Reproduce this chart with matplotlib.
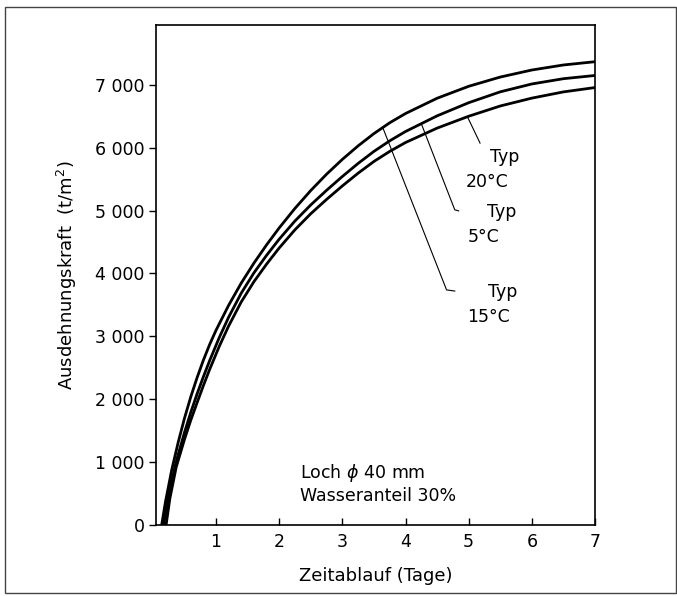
import matplotlib
matplotlib.use("Agg")
import matplotlib.pyplot as plt
import numpy as np
from matplotlib.patches import Rectangle

plt.rcParams['font.family'] = ['DejaVu Sans']

# Ausdehnungskraft (t/m2) over Zeitablauf (Tage)
days_15 = [0.14, 0.2, 0.3, 0.4, 0.5, 0.6, 0.7, 0.8, 0.9, 1.0, 1.2, 1.4, 1.6, 1.8,
           2.0, 2.25, 2.5, 2.75, 3.0, 3.25, 3.5, 3.75, 4.0, 4.5, 5.0, 5.5, 6.0, 6.5, 7.0]
force_15 = [0, 368, 880, 1308, 1693, 2035, 2341, 2620, 2871, 3095, 3493, 3847, 4163, 4453,
            4723, 5034, 5318, 5577, 5813, 6028, 6223, 6395, 6542, 6785, 6975, 7122, 7234, 7314, 7366]

days_5 = [0.17, 0.27, 0.37, 0.5, 0.6, 0.7, 0.8, 0.9, 1.05, 1.2, 1.4, 1.6, 1.8,
          2.0, 2.25, 2.5, 2.75, 3.0, 3.25, 3.5, 3.75, 4.0, 4.5, 5.0, 5.5, 6.0, 6.5, 7.0]
force_5 = [0, 572, 1010, 1468, 1789, 2083, 2356, 2615, 2976, 3304, 3687, 4008, 4287,
           4544, 4834, 5089, 5321, 5541, 5749, 5940, 6108, 6256, 6505, 6714, 6887, 7012, 7096, 7147]

days_20 = [0.21, 0.27, 0.37, 0.5, 0.6, 0.7, 0.8, 0.9, 1.05, 1.2, 1.4, 1.6, 1.8,
           2.0, 2.25, 2.5, 2.75, 3.0, 3.25, 3.5, 3.75, 4.0, 4.5, 5.0, 5.5, 6.0, 6.5, 7.0]
force_20 = [0, 422, 920, 1358, 1664, 1943, 2216, 2475, 2836, 3164, 3547, 3868, 4147,
            4404, 4694, 4949, 5176, 5391, 5594, 5780, 5940, 6081, 6310, 6499, 6662, 6787, 6886, 6955]

x_ticks = [1, 2, 3, 4, 5, 6, 7]
y_ticks = [0, 1000, 2000, 3000, 4000, 5000, 6000, 7000]
y_labels = ['0', '1 000', '2 000', '3 000', '4 000', '5 000', '6 000', '7 000']

fig = plt.figure(figsize=(6.77, 5.96), dpi=100)
ax = fig.add_axes([0.2304, 0.1191, 0.6485, 0.839])

ax.plot(days_15, force_15, color='black', lw=2.0)
ax.plot(days_5, force_5, color='black', lw=2.0)
ax.plot(days_20, force_20, color='black', lw=2.0)

# leader lines from each curve to its label
d = 4.98
ax.plot([d, 5.18], [np.interp(d, days_20, force_20), 6072], color='black', lw=0.8)
d = 4.25
ax.plot([d, 4.78, 4.84], [np.interp(d, days_5, force_5), 5011, 4995], color='black', lw=0.8)
d = 3.64
ax.plot([d, 4.65, 4.78], [np.interp(d, days_15, force_15), 3738, 3720], color='black', lw=0.8)

fs = 12.5
ax.text(5.33, 5764, "Typ", fontsize=fs, va='baseline')
ax.text(4.96, 5372, "20°C", fontsize=fs, va='baseline')
ax.text(5.29, 4895, "Typ", fontsize=fs, va='baseline')
ax.text(4.98, 4507, "5°C", fontsize=fs, va='baseline')
ax.text(5.30, 3622, "Typ", fontsize=fs, va='baseline')
ax.text(4.97, 3234, "15°C", fontsize=fs, va='baseline')

ax.text(2.33, 748, "Loch $\\phi$ 40 mm", fontsize=fs, va='baseline')
ax.text(2.33, 382, "Wasseranteil 30%", fontsize=fs, va='baseline')

ax.set_xlim(0.05, 7)
ax.set_ylim(0, 7950)
ax.set_xticks(x_ticks)
ax.set_yticks(y_ticks)
ax.set_yticklabels(y_labels)
ax.tick_params(axis='x', direction='in', length=5, width=1, labelsize=fs, pad=6)
ax.tick_params(axis='y', direction='out', length=5, width=1, labelsize=fs, pad=3)
for s in ax.spines.values():
    s.set_linewidth(1.2)

ax.set_xlabel("Zeitablauf (Tage)", fontsize=13, labelpad=11)
ax.set_ylabel("Ausdehnungskraft  (t/m$^2$)", fontsize=13, labelpad=12)

# frame around the whole picture
fig.patches.append(Rectangle((5 / 677, 3 / 596), 671 / 677, 586 / 596,
                             transform=fig.transFigure, fill=False,
                             edgecolor='#444444', lw=1.0))

fig.savefig("out.png", dpi=100)
